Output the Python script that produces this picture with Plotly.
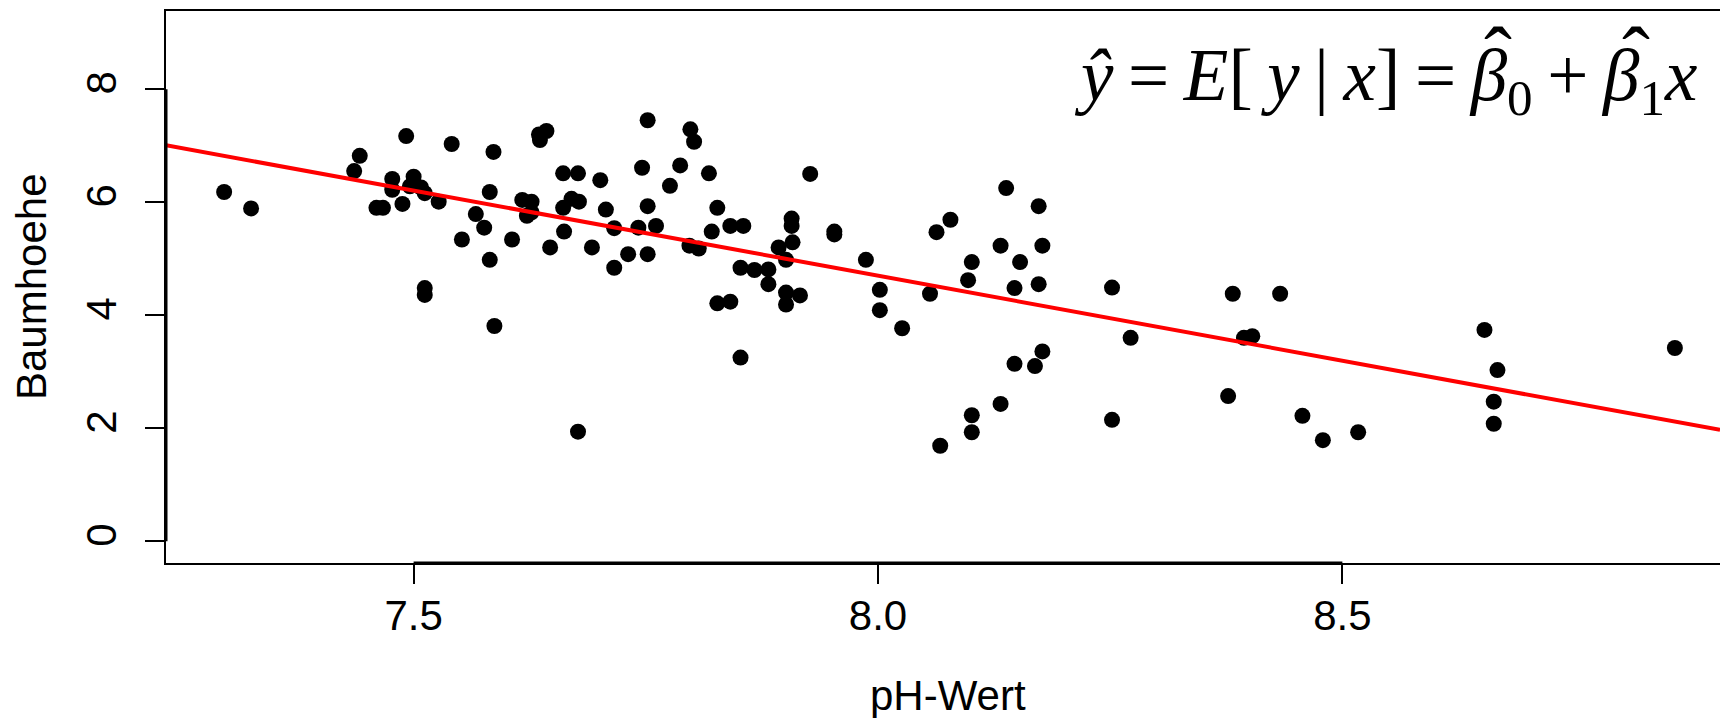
import plotly.graph_objects as go

# pH values (x) and tree heights (y)
ph_wert = [
    7.296, 7.325, 7.436, 7.442, 7.460, 7.467, 7.477, 7.477, 7.488, 7.492,
    7.496, 7.500, 7.508, 7.512, 7.512, 7.512, 7.527, 7.541, 7.552, 7.567,
    7.576, 7.582, 7.582, 7.586, 7.587, 7.606, 7.617, 7.622, 7.627, 7.627,
    7.635, 7.636, 7.643, 7.647, 7.661, 7.661, 7.662, 7.670, 7.677, 7.678,
    7.677, 7.692, 7.701, 7.707, 7.716, 7.716, 7.731, 7.742, 7.746, 7.752,
    7.752, 7.752, 7.761, 7.776, 7.787, 7.797, 7.798, 7.802, 7.807, 7.818,
    7.821, 7.827, 7.827, 7.841, 7.841, 7.852, 7.852, 7.855, 7.867, 7.882,
    7.882, 7.893, 7.901, 7.901, 7.901, 7.907, 7.907, 7.908, 7.916, 7.927,
    7.953, 7.953, 7.987, 8.002, 8.002, 8.026, 8.056, 8.063, 8.067, 8.078,
    8.097, 8.101, 8.101, 8.101, 8.132, 8.132, 8.138, 8.147, 8.147, 8.153,
    8.169, 8.173, 8.173, 8.177, 8.177, 8.252, 8.252, 8.272, 8.377, 8.382,
    8.394, 8.403, 8.433, 8.457, 8.479, 8.517, 8.653, 8.663, 8.663, 8.667,
    8.858,
]
baumhoehe = [
    6.18, 5.89, 6.55, 6.82, 5.90, 5.90, 6.41, 6.22, 5.97, 7.17,
    6.28, 6.45, 6.26, 6.16, 4.48, 4.36, 6.01, 7.03, 5.34, 5.79,
    5.55, 6.18, 4.98, 6.89, 3.81, 5.34, 6.04, 5.76, 6.01, 5.82,
    7.20, 7.10, 7.26, 5.20, 6.51, 5.90, 5.48, 6.06, 6.51, 6.01,
    1.94, 5.20, 6.39, 5.87, 5.54, 4.84, 5.08, 5.55, 6.61, 7.45,
    5.93, 5.08, 5.58, 6.29, 6.65, 5.23, 7.29, 7.07, 5.18, 6.51,
    5.48, 5.90, 4.21, 5.58, 4.24, 4.84, 3.25, 5.58, 4.80, 4.81,
    4.55, 5.20, 4.98, 4.40, 4.19, 5.71, 5.58, 5.29, 4.35, 6.50,
    5.48, 5.43, 4.98, 4.45, 4.09, 3.77, 4.38, 5.47, 1.69, 5.69,
    4.62, 4.94, 2.23, 1.93, 5.23, 2.43, 6.25, 4.48, 3.14, 4.94,
    3.10, 5.93, 4.55, 5.23, 3.36, 4.49, 2.15, 3.60, 2.57, 4.38,
    3.60, 3.63, 4.38, 2.22, 1.79, 1.93, 3.74, 2.47, 2.08, 3.03,
    3.42,
]

# regression coefficients
beta0 = 28.78
beta1 = -3.01

x_range = [7.2334, 8.9066]
y_range = [-0.384, 9.383]
x_ticks = [7.5, 8.0, 8.5]
x_ticklabels = ["7.5", "8.0", "8.5"]
y_ticks = [0, 2, 4, 6, 8]
y_ticklabels = ["0", "2", "4", "6", "8"]

line_x = x_range
line_y = [beta0 + beta1 * v for v in line_x]

SANS = "Liberation Sans, Arial, sans-serif"
SERIF = "Liberation Serif, Times New Roman, serif"

# plot-area geometry in pixels (for placing annotations)
PL, PR, PT, PB = 166, 1720, 11, 563


def px(xpix):
    return (xpix - PL) / (PR - PL)


def py(ypix):
    return (PB - ypix) / (PB - PT)


fig = go.Figure()
fig.add_trace(go.Scatter(
    x=ph_wert, y=baumhoehe, mode="markers",
    marker=dict(color="black", size=16, line=dict(width=0)),
    showlegend=False,
))
fig.add_trace(go.Scatter(
    x=line_x, y=line_y, mode="lines",
    line=dict(color="#ff0000", width=4),
    showlegend=False,
))

S = "\u2009"  # thin space
eq_text = (f"<i>ŷ</i>{S}={S}<i>E</i>[{S}<i>y</i>{S}|{S}<i>x</i>]{S}={S}"
           f"<i>β</i><sub>0</sub>{S}+{S}<i>β</i><sub>1</sub><i>x</i>")

# R-style axis lines drawn over the box between the first and last tick
axis_shapes = [
    dict(type="line", xref="x", yref="paper",
         x0=x_ticks[0], x1=x_ticks[-1], y0=0, y1=0,
         line=dict(color="black", width=3)),
    dict(type="line", xref="paper", yref="y",
         x0=0, x1=0, y0=y_ticks[0], y1=y_ticks[-1],
         line=dict(color="black", width=3)),
]

fig.update_layout(
    width=1720, height=718,
    margin=dict(l=PL, r=0, t=PT, b=718 - PB),
    paper_bgcolor="white", plot_bgcolor="white",
    font=dict(family=SANS, size=42, color="black"),
    shapes=axis_shapes,
    xaxis=dict(
        range=x_range, tickvals=x_ticks, ticktext=x_ticklabels,
        showgrid=False, zeroline=False,
        showline=True, linecolor="black", linewidth=2, mirror=True,
        ticks="outside", ticklen=19, tickwidth=1.5, tickcolor="black",
        tickfont=dict(family=SANS, size=42),
        ticklabelstandoff=-4,
    ),
    yaxis=dict(
        range=y_range, tickvals=y_ticks, ticktext=y_ticklabels,
        showgrid=False, zeroline=False,
        showline=True, linecolor="black", linewidth=2, mirror=False,
        ticks="outside", ticklen=19, tickwidth=1.5, tickcolor="black",
        tickfont=dict(family=SANS, size=42), tickangle=-90,
        ticklabelstandoff=12,
    ),
    annotations=[
        dict(text="Baumhoehe", xref="paper", yref="paper", x=0, y=0.5,
             xanchor="center", yanchor="middle", xshift=-135, textangle=-90,
             showarrow=False, font=dict(family=SANS, size=42)),
        dict(text="pH-Wert", xref="paper", yref="paper", x=0.503, y=0,
             xanchor="center", yanchor="middle", yshift=-132,
             showarrow=False, font=dict(family=SANS, size=42)),
        dict(text=eq_text, xref="paper", yref="paper",
             x=px(1699), y=py(80), xanchor="right", yanchor="middle",
             showarrow=False, font=dict(family=SERIF, size=73)),
        dict(text="ˆ", xref="paper", yref="paper",
             x=px(1498), y=py(56), xanchor="center", yanchor="middle",
             showarrow=False, font=dict(family=SERIF, size=84)),
        dict(text="ˆ", xref="paper", yref="paper",
             x=px(1636), y=py(56), xanchor="center", yanchor="middle",
             showarrow=False, font=dict(family=SERIF, size=84)),
    ],
)

fig.write_html("out.html")
